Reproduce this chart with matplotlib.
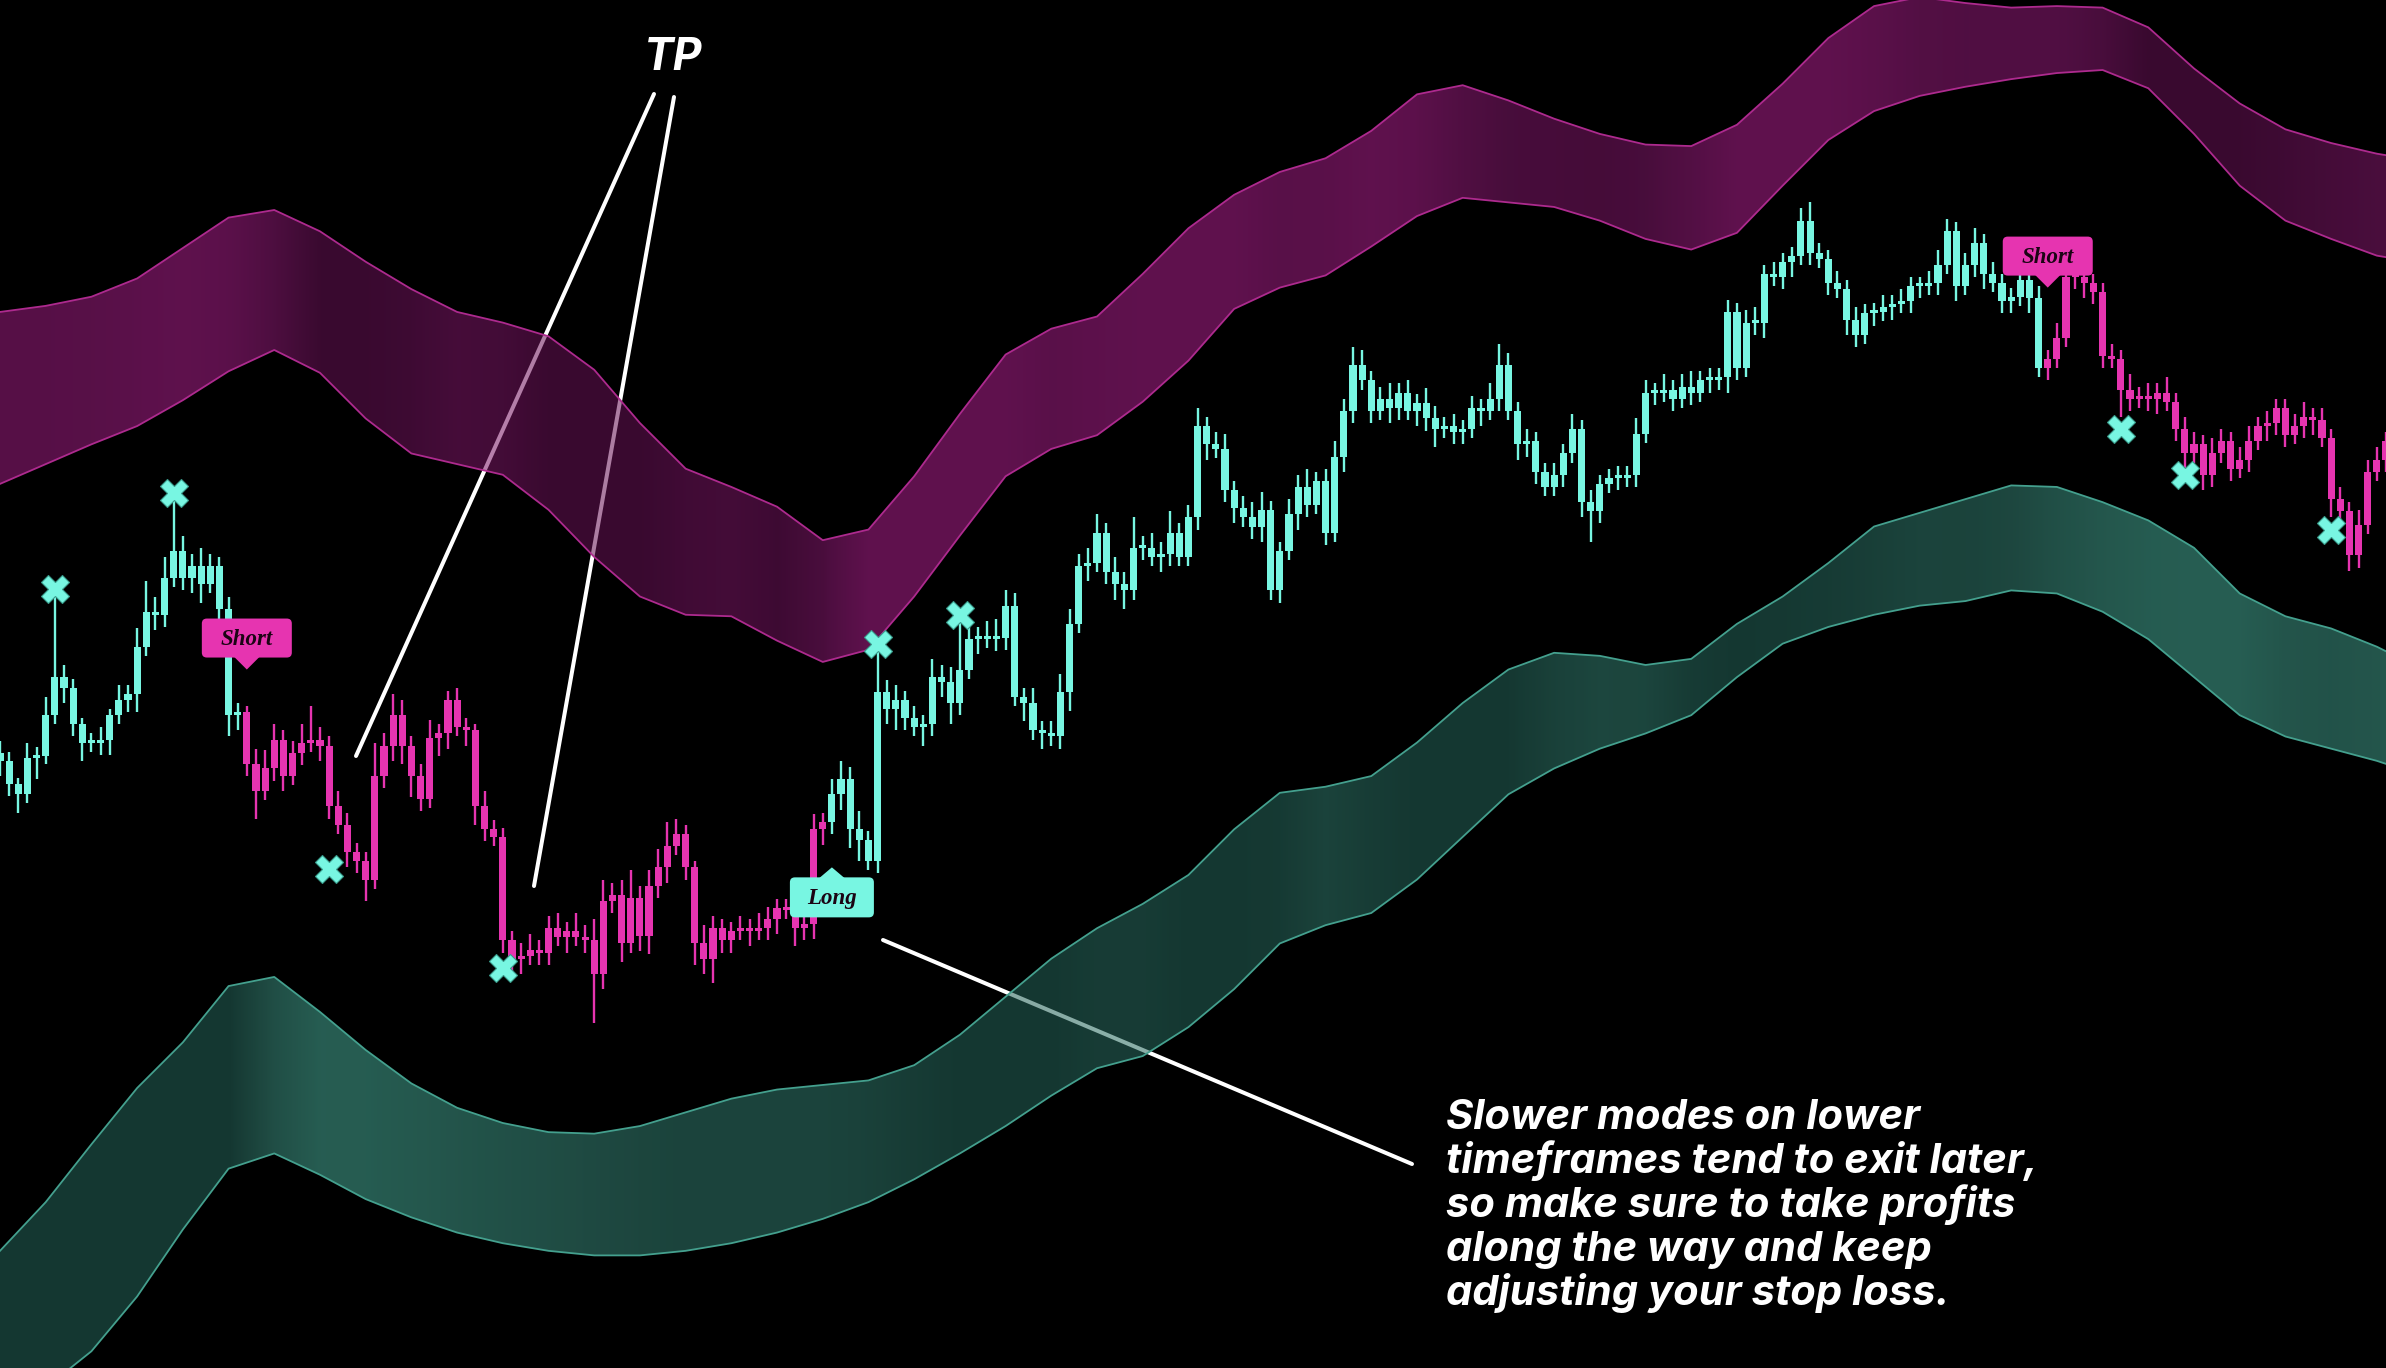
import numpy as np
import matplotlib
matplotlib.use("Agg")
import matplotlib.pyplot as plt
from matplotlib.patches import FancyBboxPatch, Polygon
from matplotlib.transforms import IdentityTransform

# ---------------- data (price units) ----------------
first_open = 405
close = [
    400, 385, 378, 402, 403, 430, 455, 448, 424, 412,
    412, 414, 430, 440, 444, 475, 498, 496, 520, 538,
    520, 528, 516, 528, 500, 430, 432, 398, 380, 395,
    414, 390, 405, 412, 414, 410, 370, 358, 340, 334,
    322, 390, 410, 430, 410, 390, 375, 415, 418, 440,
    422, 420, 370, 355, 350, 282, 270, 272, 276, 274,
    290, 284, 288, 284, 282, 260, 308, 312, 280, 310,
    285, 318, 330, 344, 352, 330, 280, 270, 290, 282,
    288, 290, 288, 290, 296, 303, 302, 290, 293, 355,
    360, 378, 388, 355, 348, 334, 445, 434, 440, 428,
    422, 424, 455, 452, 438, 460, 480, 482, 480, 481,
    502, 442, 438, 420, 418, 416, 445, 490, 528, 530,
    550, 524, 516, 512, 540, 540, 534, 536, 550, 534,
    560, 620, 608, 605, 578, 566, 560, 554, 565, 512,
    538, 562, 580, 568, 584, 550, 600, 630, 660, 650,
    630, 638, 632, 642, 630, 635, 625, 618, 620, 616,
    618, 632, 630, 638, 660, 630, 608, 610, 590, 580,
    588, 602, 618, 570, 564, 582, 586, 586, 588, 615,
    642, 642, 644, 638, 646, 642, 650, 650, 652, 695,
    658, 688, 688, 720, 718, 728, 732, 755, 734, 730,
    714, 710, 690, 680, 694, 695, 698, 700, 702, 712,
    712, 714, 726, 748, 712, 726, 740, 720, 714, 702,
    705, 716, 704, 658, 664, 678, 718, 718, 714, 708,
    666, 664, 644, 638, 640, 638, 642, 636, 618, 602,
    608, 588, 602, 610, 592, 598, 610, 620, 622, 632,
    614, 620, 626, 624, 612, 572, 564, 535, 555, 590,
    598, 610,
]
wick_up = [
    8, 6, 4, 10, 6, 12, 55, 8, 6, 4,
    6, 8, 4, 10, 6, 12, 20, 10, 14, 34,
    10, 8, 12, 8, 6, 8, 6, 4, 10, 12,
    10, 6, 8, 12, 22, 8, 6, 10, 8, 6,
    6, 22, 8, 14, 10, 6, 8, 12, 6, 6,
    8, 6, 4, 10, 6, 6, 6, 8, 10, 6,
    8, 10, 6, 12, 8, 14, 14, 8, 10, 18,
    8, 10, 12, 16, 10, 6, 4, 12, 8, 6,
    6, 8, 6, 10, 8, 6, 6, 10, 8, 10,
    6, 10, 12, 8, 12, 6, 28, 8, 10, 6,
    8, 6, 12, 8, 10, 34, 8, 6, 10, 12,
    10, 8, 6, 10, 6, 8, 12, 10, 8, 10,
    12, 6, 10, 8, 20, 8, 10, 8, 14, 6,
    8, 12, 6, 8, 10, 6, 8, 10, 12, 6,
    6, 10, 8, 12, 6, 8, 10, 8, 12, 10,
    6, 8, 10, 6, 8, 6, 10, 8, 6, 8,
    6, 8, 6, 10, 14, 8, 6, 8, 6, 6,
    8, 6, 10, 6, 8, 6, 6, 8, 6, 10,
    8, 6, 10, 6, 8, 10, 6, 8, 6, 8,
    6, 8, 10, 6, 8, 6, 6, 8, 12, 6,
    6, 8, 6, 8, 6, 6, 8, 6, 8, 6,
    6, 8, 10, 8, 6, 8, 10, 6, 8, 6,
    6, 8, 6, 8, 6, 10, 26, 6, 8, 6,
    6, 8, 6, 10, 6, 8, 6, 10, 6, 8,
    8, 6, 10, 8, 6, 8, 10, 6, 8, 6,
    6, 8, 10, 6, 8, 6, 8, 6, 10, 8,
    8, 6,
]
wick_dn = [
    10, 8, 12, 6, 14, 5, 6, 10, 8, 12,
    6, 8, 10, 6, 8, 12, 6, 10, 8, 6,
    8, 10, 12, 6, 8, 14, 10, 8, 18, 6,
    8, 10, 6, 8, 6, 10, 8, 6, 10, 8,
    14, 6, 8, 10, 12, 14, 8, 6, 12, 10,
    6, 10, 12, 8, 6, 8, 12, 10, 6, 8,
    8, 6, 10, 6, 8, 32, 10, 8, 12, 6,
    10, 12, 8, 10, 6, 8, 14, 10, 16, 8,
    8, 6, 10, 6, 8, 10, 6, 12, 8, 10,
    10, 8, 10, 12, 14, 6, 8, 10, 14, 8,
    6, 12, 8, 10, 14, 8, 6, 10, 6, 8,
    8, 6, 12, 6, 10, 6, 8, 12, 6, 10,
    6, 8, 10, 12, 6, 8, 6, 10, 8, 6,
    6, 8, 10, 6, 8, 10, 6, 8, 10, 6,
    8, 6, 10, 8, 6, 8, 6, 10, 8, 6,
    8, 6, 10, 8, 6, 10, 8, 12, 6, 8,
    8, 6, 10, 6, 8, 6, 10, 8, 8, 6,
    6, 8, 6, 10, 20, 8, 6, 8, 6, 8,
    6, 8, 6, 8, 6, 8, 6, 8, 6, 10,
    8, 6, 8, 10, 6, 8, 10, 6, 8, 6,
    8, 6, 10, 8, 6, 8, 6, 8, 6, 8,
    8, 6, 8, 6, 10, 6, 8, 10, 6, 8,
    8, 6, 10, 6, 8, 6, 6, 8, 10, 8,
    8, 6, 18, 8, 6, 8, 10, 6, 8, 10,
    6, 10, 8, 6, 8, 6, 8, 6, 10, 8,
    8, 6, 8, 10, 6, 12, 8, 10, 8, 6,
    6, 8,
]

signal_idx = [27, 91, 224]
signal_text = ["Short", "Long", "Short"]
signal_price = [460, 330, 711]

tp_idx = [6, 19, 36, 55, 96, 105, 232, 239, 255]
tp_price = [513, 576, 329, 264, 477, 496, 618, 588, 552]

band_idx = list(range(0, 261, 5)) + [261]
upper_top = [695, 699, 705, 717, 737, 757, 762, 748, 728, 710, 695, 688, 679, 657, 622, 592, 580, 567,
             545, 552, 587, 628, 667, 684, 692, 720, 750, 772, 787, 796, 814, 838, 844, 834, 822, 812,
             805, 804, 818, 845, 875, 896, 902, 898, 895, 896, 895, 882, 855, 832, 815, 806, 799, 798]
upper_bot = [582, 595, 608, 620, 637, 656, 670, 655, 625, 602, 595, 588, 565, 534, 508, 496, 495, 479,
             465, 473, 508, 548, 587, 605, 614, 636, 663, 697, 711, 719, 738, 758, 770, 767, 764, 755,
             743, 736, 747, 778, 808, 827, 837, 843, 848, 852, 854, 842, 812, 778, 755, 743, 732, 731]
lower_top = [78, 110, 148, 185, 215, 252, 258, 235, 210, 188, 172, 162, 156, 155, 160, 169, 178, 184,
             187, 190, 200, 220, 245, 270, 290, 306, 325, 355, 379, 383, 390, 412, 438, 460, 471, 469,
             463, 467, 490, 508, 530, 554, 563, 572, 581, 580, 570, 558, 540, 510, 495, 487, 475, 472]
lower_bot = [-30, -12, 12, 48, 92, 132, 142, 128, 112, 100, 90, 83, 78, 75, 75, 78, 83, 90,
             99, 110, 125, 142, 160, 180, 198, 206, 225, 250, 280, 292, 300, 322, 350, 378, 395, 408,
             418, 430, 455, 477, 488, 496, 502, 505, 512, 510, 498, 480, 455, 430, 416, 408, 400, 398]

tp_text = "TP"
note_lines = [
    "Slower modes on lower",
    "timeframes tend to exit later,",
    "so make sure to take profits",
    "along the way and keep",
    "adjusting your stop loss.",
]

# ---------------- style ----------------
W, H, DPI = 2386, 1368, 100
TEAL = "#78f6e2"
PINK = "#e634b0"
BAND_ALPHA = 0.55
XMAX = 261

fig = plt.figure(figsize=(W / DPI, H / DPI), dpi=DPI, facecolor="black")
ax = fig.add_axes([0, 0, 1, 1])
ax.set_facecolor("black")
ax.set_xlim(0, XMAX)
ax.set_ylim(1, 900)
ax.axis("off")
ID = IdentityTransform()


def draw_band(top, bot, base, light, dark, edge, sign):
    bx = np.array(band_idx, float)
    top = np.array(top, float)
    bot = np.array(bot, float)
    mid = (top + bot) / 2
    b = np.clip(sign * np.gradient(mid, bx) / 4.0, -1, 1)
    cx = np.linspace(0, XMAX, 1200)
    bb = np.interp(cx, bx, b)[:, None]
    base, light, dark = (np.array(c, float) / 255 for c in (base, light, dark))
    rgb = np.where(bb >= 0, base + bb * (light - base), base - bb * (dark - base))
    rgb = np.clip(rgb / BAND_ALPHA, 0, 1)
    img = np.repeat(rgb[None, :, :], 2, axis=0)
    im = ax.imshow(img, extent=(0, XMAX, -200, 1100), aspect="auto", origin="lower",
                   interpolation="bilinear", alpha=BAND_ALPHA, zorder=2)
    verts = np.column_stack([np.r_[bx, bx[::-1]], np.r_[top, bot[::-1]]])
    patch = Polygon(verts, closed=True, transform=ax.transData, fc="none", ec="none")
    ax.add_patch(patch)
    im.set_clip_path(patch)
    ax.plot(bx, top, color=edge, lw=1.3, zorder=2.5)
    ax.plot(bx, bot, color=edge, lw=1.3, zorder=2.5)


draw_band(upper_top, upper_bot, (80, 15, 66), (96, 18, 78), (58, 10, 48), "#ad2a8e", +1)
draw_band(lower_top, lower_bot, (31, 74, 66), (39, 94, 83), (21, 56, 50), "#44a08e", -1)
ax.set_xlim(0, XMAX)
ax.set_ylim(1, 900)

# ---------------- candles ----------------
n = len(close)
c = np.array(close, float)
o = np.r_[first_open, c[:-1]]
hi = np.maximum(o, c) + np.array(wick_up, float)
lo = np.minimum(o, c) - np.array(wick_dn, float)
trend = np.ones(n)
for k, s in zip(signal_idx, signal_text):
    trend[k:] = 1 if s == "Long" else -1
cols = [TEAL if t > 0 else PINK for t in trend]
idx = np.arange(n)
ax.vlines(idx, lo, hi, colors=cols, lw=1.7, zorder=3)
body_bot = np.minimum(o, c)
body_h = np.maximum(np.abs(c - o), 2.0)
ax.bar(idx, body_h, bottom=body_bot, width=0.78, color=cols, linewidth=0, zorder=3.1)

# TP markers
ax.plot(tp_idx, tp_price, ls="none", marker="X", ms=20, color=TEAL, mec="#3a9c8c", mew=0.8, zorder=4)

# ---------------- signal labels ----------------
for k, txt, p in zip(signal_idx, signal_text, signal_price):
    xd, yd = ax.transData.transform((k, p))
    long_ = txt == "Long"
    col = TEAL if long_ else PINK
    bw, bh, th, tw = (84, 40, 10, 13) if long_ else (90, 39, 12, 13)
    if long_:
        tri = [(xd - tw, yd - th - 1), (xd + tw, yd - th - 1), (xd, yd)]
        by0 = yd - th - bh
    else:
        tri = [(xd - tw, yd + th + 1), (xd + tw, yd + th + 1), (xd, yd)]
        by0 = yd + th
    ax.add_patch(Polygon(tri, closed=True, transform=ID, fc=col, ec="none", zorder=6))
    r = 5
    ax.add_patch(FancyBboxPatch((xd - bw / 2 + r, by0 + r), bw - 2 * r, bh - 2 * r,
                                boxstyle=f"round,pad={r},rounding_size={r}", transform=ID,
                                fc=col, ec="none", zorder=6))
    ax.text(xd, by0 + bh / 2 - 1, txt, transform=ID, ha="center", va="center", fontsize=16.5,
            fontstyle="italic", fontweight="bold", family=["Liberation Serif", "DejaVu Serif"],
            color="#1b0414", zorder=7)

# ---------------- annotations ----------------
def P(x, y):
    return x, H - y


for (x1, y1), (x2, y2) in [((654, 94), (356, 756)), ((674, 97), (534, 886)), ((883, 940), (1412, 1164))]:
    (a1, b1), (a2, b2) = P(x1, y1), P(x2, y2)
    ax.plot([a1, a2], [b1, b2], transform=ID, color="white", lw=2.9, solid_capstyle="round", zorder=1)

font_note = dict(fontstyle="italic", fontweight="bold", family=["Inter", "Roboto", "DejaVu Sans"], color="white")
ax.text(*P(673, 70), tp_text, transform=ID, ha="center", va="baseline", fontsize=32, zorder=8, **font_note)
for j, line in enumerate(note_lines):
    ax.text(*P(1446, 1129 + 44 * j), line, transform=ID, ha="left", va="baseline", fontsize=30,
            zorder=8, **font_note)

fig.savefig("out.png", dpi=DPI, facecolor="black")
